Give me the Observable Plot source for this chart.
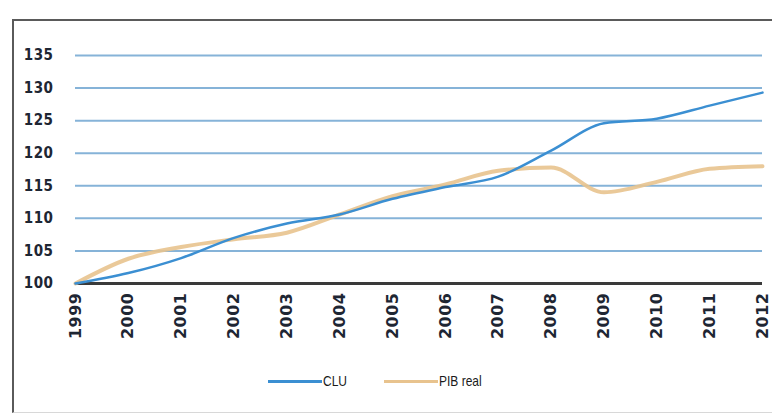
<!DOCTYPE html>
<html>
<head>
<meta charset="utf-8">
<script src="https://cdn.jsdelivr.net/npm/d3@7"></script>
<script src="https://cdn.jsdelivr.net/npm/@observablehq/plot@0.6"></script>
<style>
  html, body { margin: 0; padding: 0; background: #ffffff; }
  #wrap { position: relative; width: 773px; height: 419px; overflow: hidden; background: #fff; }
  #frame { position: absolute; left: 12px; top: 19px; width: 760px; height: 394px;
           border-top: 2px solid #5a5a5a; border-left: 2px solid #5a5a5a; border-bottom: 1px solid #d8d8d8; box-sizing: border-box; }
  #chart { position: absolute; left: 0; top: 0; }
  .leg { position: absolute; top: 370px; height: 22px; display: flex; align-items: center;
         font-family: "Liberation Sans", Arial, sans-serif; font-size: 15px; color: #1a1a1a; }
  .leg .sw { width: 54px; height: 3px; margin-right: 1px; }
  .leg .lbl { background: #fff; line-height: 22px; position: relative; }
  .leg .lbl span { display: inline-block; transform: scaleX(0.8); transform-origin: left center; }
  #chart svg text { letter-spacing: 0.5px; }
  .xax text { letter-spacing: 1.5px; }
</style>
</head>
<body>
<div id="wrap">
  <div id="frame"></div>
  <div id="chart"></div>
  <div id="legend"></div>
</div>
<script>
const years = [1999, 2000, 2001, 2002, 2003, 2004, 2005, 2006, 2007, 2008, 2009, 2010, 2011, 2012];
const clu   = [100, 101.6, 103.9, 107.0, 109.2, 110.6, 113.0, 114.8, 116.4, 120.4, 124.6, 125.3, 127.3, 129.3];
const pib   = [100, 103.8, 105.6, 106.8, 107.8, 110.6, 113.4, 115.2, 117.3, 117.8, 114.0, 115.6, 117.6, 118.0];
const seriesNames = ["CLU", "PIB real"];
const seriesColors = ["#3b8fd2", "#e8c38e"];
const yTicks = [100, 105, 110, 115, 120, 125, 130, 135];

const rows = [];
years.forEach((y, i) => {
  rows.push({year: y, value: clu[i], series: seriesNames[0]});
  rows.push({year: y, value: pib[i], series: seriesNames[1]});
});

const chart = Plot.plot({
  width: 773,
  height: 419,
  marginLeft: 75,
  marginRight: 11,
  marginTop: 55,
  marginBottom: 136,
  style: {background: "transparent", color: "#1e2633"},
  x: {domain: [1999, 2012], ticks: years, tickFormat: d => String(d)},
  y: {domain: [100, 135], ticks: yTicks},
  color: {domain: seriesNames, range: seriesColors},
  marks: [
    Plot.gridY(yTicks.slice(1), {stroke: "#86b3d8", strokeOpacity: 1, strokeWidth: 2}),
    Plot.ruleY([100], {stroke: "#3a3a3a", strokeWidth: 3}),
    Plot.line(rows.filter(d => d.series === seriesNames[1]), {x: "year", y: "value", stroke: "series", strokeWidth: 4, curve: "monotone-x", strokeOpacity: 0.9}),
    Plot.line(rows.filter(d => d.series === seriesNames[0]), {x: "year", y: "value", stroke: "series", strokeWidth: 2.5, curve: "monotone-x"}),
    Plot.axisY({ticks: yTicks, tickSize: 0, tickPadding: 22, fontSize: 15, fontWeight: "bold", fontFamily: "DejaVu Sans Condensed, DejaVu Sans", label: null}),
    Plot.axisX({ticks: years, tickSize: 0, tickPadding: 9, tickRotate: -90, fontSize: 16, fontWeight: "bold", fontFamily: "DejaVu Sans", label: null, className: "xax", tickFormat: d => String(d)})
  ]
});
document.getElementById("chart").appendChild(chart);

const legend = document.getElementById("legend");
const legPos = [268, 384];
seriesNames.forEach((name, i) => {
  const item = document.createElement("div");
  item.className = "leg";
  item.style.left = legPos[i] + "px";
  const sw = document.createElement("div");
  sw.className = "sw";
  sw.style.background = seriesColors[i];
  const lbl = document.createElement("div");
  lbl.className = "lbl";
  lbl.style.width = (i === 0 ? 50 : 90) + "px";
  const t = document.createElement("span");
  t.textContent = name;
  lbl.appendChild(t);
  item.appendChild(sw);
  item.appendChild(lbl);
  legend.appendChild(item);
});
</script>
</body>
</html>
